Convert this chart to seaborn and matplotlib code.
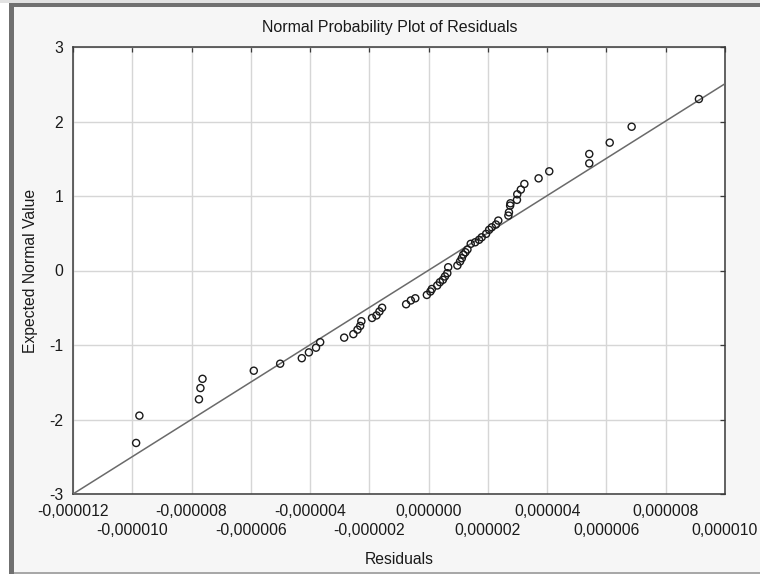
import numpy as np
import pandas as pd
import matplotlib
matplotlib.use("Agg")
import matplotlib.pyplot as plt
import seaborn as sns
from matplotlib.ticker import FixedLocator, FixedFormatter
from matplotlib.patches import Rectangle

# ---------------- data ----------------
title = "Normal Probability Plot of Residuals"
x_label = "Residuals"
y_label = "Expected Normal Value"

# residuals, in units of 1e-6
residuals_e6 = [
    -9.87, -9.76, -7.75, -7.70, -7.63, -5.90, -5.01, -4.28, -4.04, -3.80,
    -3.66, -2.85, -2.54, -2.40, -2.31, -2.27, -1.91, -1.76, -1.66, -1.57,
    -0.76, -0.60, -0.45, -0.06, 0.06, 0.11, 0.29, 0.38, 0.48, 0.55,
    0.63, 0.66, 0.97, 1.06, 1.12, 1.17, 1.24, 1.31, 1.42, 1.57,
    1.70, 1.79, 1.94, 2.04, 2.13, 2.27, 2.35, 2.69, 2.71, 2.75,
    2.76, 2.98, 2.99, 3.11, 3.23, 3.71, 4.07, 5.42, 5.42, 6.11,
    6.85, 9.12,
]
expected_normal = [
    -2.315, -1.948, -1.729, -1.578, -1.454, -1.345, -1.251, -1.177, -1.099, -1.036,
    -0.962, -0.901, -0.854, -0.794, -0.744, -0.681, -0.637, -0.603, -0.550, -0.500,
    -0.453, -0.402, -0.373, -0.328, -0.282, -0.248, -0.201, -0.157, -0.125, -0.080,
    -0.036, 0.044, 0.067, 0.121, 0.165, 0.214, 0.245, 0.282, 0.358, 0.379,
    0.412, 0.446, 0.492, 0.546, 0.580, 0.617, 0.670, 0.737, 0.781, 0.871,
    0.902, 0.948, 1.023, 1.086, 1.162, 1.237, 1.331, 1.438, 1.564, 1.716,
    1.930, 2.302,
]

# reference (normal) line: y = slope * x[1e-6] + intercept
line_slope_e6 = 0.2503
line_intercept = 0.004

x_ticks_e6 = [-12, -10, -8, -6, -4, -2, 0, 2, 4, 6, 8, 10]
y_ticks = [-3, -2, -1, 0, 1, 2, 3]

# ---------------- style ----------------
W, H = 760, 574
sns.set_style("white")
plt.rcParams["font.family"] = ["Liberation Sans", "DejaVu Sans"]
FS = 11.3
TFS = 11.5

fig = plt.figure(figsize=(W / 100, H / 100), dpi=100)
fig.patch.set_facecolor("#f6f6f6")
ax = fig.add_axes([73 / W, 1 - 494 / H, 652 / W, 447 / H])
ax.set_facecolor("white")

df = pd.DataFrame({
    "res": np.array(residuals_e6) * 1e-6,
    "exp": expected_normal,
})

xlim = (x_ticks_e6[0] * 1e-6, x_ticks_e6[-1] * 1e-6)
line_df = pd.DataFrame({
    "x": [xlim[0], xlim[1]],
    "y": [line_slope_e6 * x_ticks_e6[0] + line_intercept,
          line_slope_e6 * x_ticks_e6[-1] + line_intercept],
})

sns.lineplot(data=line_df, x="x", y="y", ax=ax, color="#6a6a6a",
             linewidth=1.1, zorder=3)
sns.scatterplot(data=df, x="res", y="exp", ax=ax, s=26,
                facecolors="none", edgecolor="#1a1a1a", linewidth=1.0,
                zorder=4)

ax.set_xlim(*xlim)
ax.set_ylim(y_ticks[0], y_ticks[-1])


def fmt(t):
    s = f"{t * 1e-6:.6f}".replace(".", ",")
    return "0,000000" if s.startswith("-0,000000") else s


row1 = x_ticks_e6[0::2]
row2 = x_ticks_e6[1::2]
ax.xaxis.set_major_locator(FixedLocator([t * 1e-6 for t in row1]))
ax.xaxis.set_major_formatter(FixedFormatter([fmt(t) for t in row1]))
ax.xaxis.set_minor_locator(FixedLocator([t * 1e-6 for t in row2]))
ax.xaxis.set_minor_formatter(FixedFormatter([fmt(t) for t in row2]))
ax.yaxis.set_major_locator(FixedLocator(y_ticks))
ax.yaxis.set_major_formatter(FixedFormatter([str(v) for v in y_ticks]))

ax.grid(True, which="both", axis="x", color="#d6d6d6", linewidth=1.0, zorder=0)
ax.grid(True, which="major", axis="y", color="#d6d6d6", linewidth=1.0, zorder=0)
ax.set_axisbelow(True)
for sp in ax.spines.values():
    sp.set_color("#3a3a3a")
    sp.set_linewidth(1.1)

ax.tick_params(axis="both", which="both", direction="in", length=3.5,
               width=0.9, color="#3a3a3a", labelsize=FS, labelcolor="#1a1a1a",
               top=True, right=True)
ax.tick_params(axis="x", which="major", pad=7.5)
ax.tick_params(axis="x", which="minor", pad=7.5 + 13.2)
ax.tick_params(axis="y", pad=7)

ax.set_title(title, fontsize=TFS, color="#1a1a1a", pad=11,
             x=(390 - 73) / 652)
ax.set_xlabel(x_label, fontsize=FS, color="#1a1a1a", labelpad=10)
ax.set_ylabel(y_label, fontsize=FS, color="#1a1a1a", labelpad=8)

# window frame
fig.add_artist(Rectangle((9 / W, 0), 4.5 / W, (H - 3) / H,
                         transform=fig.transFigure, color="#707070", lw=0))
fig.add_artist(Rectangle((9 / W, 1 - 6.5 / H), (W - 9) / W, 3.5 / H,
                         transform=fig.transFigure, color="#707070", lw=0))
fig.add_artist(Rectangle((0, 1 - 3 / H), 1, 3 / H,
                         transform=fig.transFigure, color="#e2e2e2", lw=0))
fig.add_artist(Rectangle((0, 0), 9 / W, 1 - 3 / H,
                         transform=fig.transFigure, color="#ffffff", lw=0))
fig.add_artist(Rectangle((13.5 / W, 0.5 / H), (W - 13.5) / W, 1.5 / H,
                         transform=fig.transFigure, color="#a8a8a8", lw=0))

fig.savefig("out.png", dpi=100, facecolor=fig.get_facecolor())
